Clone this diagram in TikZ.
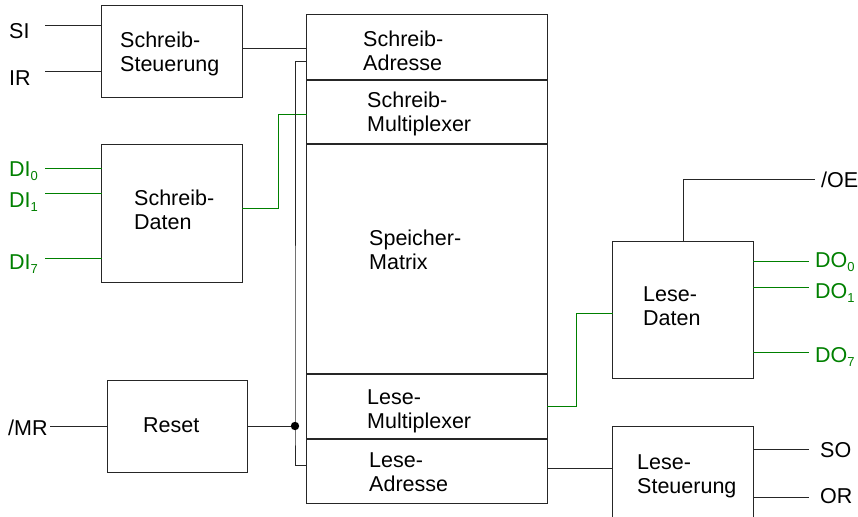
\documentclass[tikz,border=0pt]{standalone}
\usepackage{fontspec}
\setmainfont{Liberation Sans}
\definecolor{dgreen}{RGB}{0,128,0}
\newcommand{\twol}[2]{\vtop{\baselineskip=24pt\hbox{#1}\hbox{#2}}}
\newcommand{\sbs}[1]{{\fontsize{13}{13}\selectfont\raisebox{-4.5pt}{#1}}}
\begin{document}
\begin{tikzpicture}[x=1pt,y=-1pt,
  box/.style={draw=black!85,line width=1pt,fill=none},
  wire/.style={black!85,line width=1pt},
  gwire/.style={dgreen,line width=1pt},
  txt/.style={inner sep=0pt,anchor=base west,font=\fontsize{21.5}{24}\selectfont},
  gtxt/.style={txt,text=dgreen}]
\useasboundingbox (0,0) rectangle (858,516);
% boxes
\node[inner sep=0pt,minimum width=140pt,minimum height=91pt] (ss) at (172,51.5) {};
\node[inner sep=0pt,minimum width=140pt,minimum height=137pt] (sd) at (172,213.5) {};
\node[inner sep=0pt,minimum width=139pt,minimum height=91pt] (rs) at (177.5,426.5) {};
\node[inner sep=0pt,minimum width=240pt,minimum height=65pt] (sa) at (427,47.5) {};
\node[inner sep=0pt,minimum width=240pt,minimum height=64pt] (sm) at (427,112) {};
\node[inner sep=0pt,minimum width=240pt,minimum height=230pt] (mx) at (427,259) {};
\node[inner sep=0pt,minimum width=240pt,minimum height=65pt] (lm) at (427,406.5) {};
\node[inner sep=0pt,minimum width=240pt,minimum height=64pt] (la) at (427,471) {};
\node[inner sep=0pt,minimum width=140pt,minimum height=136pt] (ld) at (683,310) {};
\node[inner sep=0pt,minimum width=140pt,minimum height=100pt] (ls) at (683,477) {};
\foreach \n in {ss,sd,rs,sa,sm,mx,lm,la,ld,ls} \draw[box] (\n.north west) rectangle (\n.south east);
% texts
\node[txt] (tss) at (120,47.5) {\twol{Schreib-}{Steuerung}};
\node[txt] (tsd) at (134,205) {\twol{Schreib-}{Daten}};
\node[txt] (trs) at (143,432) {Reset};
\node[txt] (tsa) at (363,47) {\twol{Schreib-}{Adresse}};
\node[txt] (tsm) at (367,107) {\twol{Schreib-}{Multiplexer}};
\node[txt] (tmx) at (369,245) {\twol{Speicher-}{Matrix}};
\node[txt] (tlm) at (367,404) {\twol{Lese-}{Multiplexer}};
\node[txt] (tla) at (369,467) {\twol{Lese-}{Adresse}};
\node[txt] (tld) at (643,301) {\twol{Lese-}{Daten}};
\node[txt] (tls) at (637,469) {\twol{Lese-}{Steuerung}};
% labels
\node[txt] (lsi) at (9,39) {SI};
\node[txt] (lir) at (9,85) {IR};
\node[gtxt] (ldi0) at (9,176) {DI\sbs{0}};
\node[gtxt] (ldi1) at (9,207) {DI\sbs{1}};
\node[gtxt] (ldi7) at (9,269) {DI\sbs{7}};
\node[txt] (lmr) at (8,435) {/MR};
\node[txt] (loe) at (821,187) {/OE};
\node[gtxt] (ldo0) at (815,267) {DO\sbs{0}};
\node[gtxt] (ldo1) at (815,298) {DO\sbs{1}};
\node[gtxt] (ldo7) at (815,362) {DO\sbs{7}};
\node[txt] (lso) at (820,457) {SO};
\node[txt] (lor) at (820,503) {OR};
% wire ends
\coordinate (csi) at (45,26);
\coordinate (cir) at (45,72);
\coordinate (cdi0) at (45,168);
\coordinate (cdi1) at (45,193);
\coordinate (cdi7) at (45,258);
\coordinate (cmr) at (50,426);
\coordinate (coe) at (815,179);
\coordinate (cdo0) at (809,261);
\coordinate (cdo1) at (809,287);
\coordinate (cdo7) at (809,352);
\coordinate (cso) at (809,449);
\coordinate (cor) at (809,497);
\coordinate (dot) at (295,426);
% wires
\draw[wire] (csi) -- (csi -| ss.west);
\draw[wire] (cir) -- (cir -| ss.west);
\draw[gwire] (cdi0) -- (cdi0 -| sd.west);
\draw[gwire] (cdi1) -- (cdi1 -| sd.west);
\draw[gwire] (cdi7) -- (cdi7 -| sd.west);
\draw[wire] (ss.east |- 0,49) -- (sa.west |- 0,49);
\draw[gwire] (sd.east |- 0,208) -| (278,114) -- (sm.west |- 0,114);
\draw[wire] (sa.west |- 0,62) -| (dot) |- (la.west |- 0,465);
\draw[wire] (cmr) -- (rs.west |- cmr);
\draw[wire] (rs.east |- dot) -- (dot);
\fill (dot) circle [radius=4.2pt];
\draw[gwire] (lm.east) -| (576,313) -- (ld.west |- 0,313);
\draw[wire] (ld.north) |- (coe);
\draw[gwire] (ld.east |- cdo0) -- (cdo0);
\draw[gwire] (ld.east |- cdo1) -- (cdo1);
\draw[gwire] (ld.east |- cdo7) -- (cdo7);
\draw[wire] (la.east |- 0,468) -- (ls.west |- 0,468);
\draw[wire] (ls.east |- cso) -- (cso);
\draw[wire] (ls.east |- cor) -- (cor);
\end{tikzpicture}
\end{document}
